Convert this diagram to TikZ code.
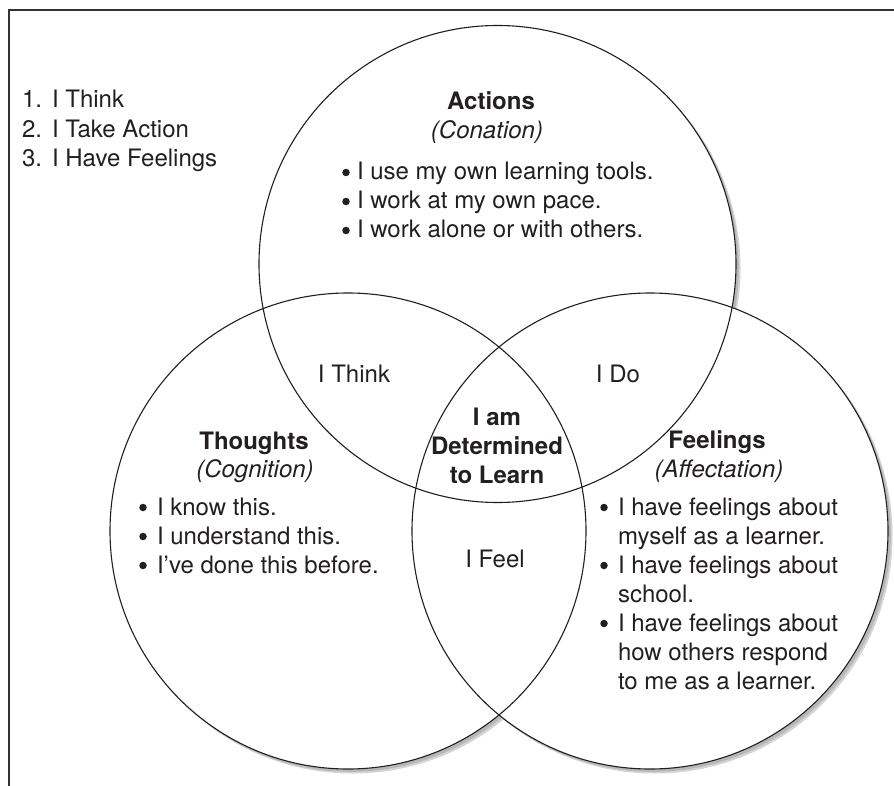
\documentclass[tikz,border=0pt]{standalone}
\usepackage{fontspec}
\setmainfont{TeX Gyre Heros}
\definecolor{ink}{HTML}{231F20}
\definecolor{shadeA}{HTML}{D4D4D4}
\definecolor{shadeB}{HTML}{B8B8B8}
\begin{document}
\begin{tikzpicture}[x=1pt,y=-1pt,
  body/.style={font=\fontsize{24}{29}\selectfont, text=ink, inner sep=0pt, outer sep=0pt},
  lft/.style={body, anchor=base west},
  ctr/.style={body, anchor=base},
  head/.style={ctr, font=\fontsize{24}{29}\selectfont\bfseries},
  sub/.style={ctr, font=\fontsize{24}{29}\selectfont\itshape},
  dot/.style={circle, fill=ink, inner sep=0pt, minimum size=7.5pt},
  ring/.style={draw=ink, line width=1.1pt},
  frameline/.style={draw=black!80, line width=1.6pt}
]
\useasboundingbox (0,0) rectangle (894,786);
\fill[white] (0,0) rectangle (894,786);

% frame (top and left edges)
\coordinate (fbl) at (9,786);
\coordinate (ftl) at (9,10);
\coordinate (ftr) at (894,10);
\draw[frameline] (fbl) -- (ftl) -- (ftr);

% circle centres
\coordinate (cA) at (497.5,264);
\coordinate (cT) at (348,531);
\coordinate (cF) at (650,531);

% shadows
\foreach \c/\r in {cA/238.5, cT/238, cF/238}{
  \fill[shadeA] ([shift={(4.5,4.5)}]\c) circle[radius=\r pt];
  \fill[shadeB] ([shift={(2.8,2.8)}]\c) circle[radius=\r pt];
}
% white discs
\foreach \c/\r in {cA/238.5, cT/238, cF/238}{
  \fill[white] (\c) circle[radius=\r pt];
}
% outlines
\draw[ring] (cA) circle[radius=238.5pt];
\draw[ring] (cT) circle[radius=238pt];
\draw[ring] (cF) circle[radius=238pt];

% top-left list
\node[lft] (n1) at (22,108) {1.};
\node[lft] (l1) at (52,108) {I Think};
\node[lft] (n2) at (22,138) {2.};
\node[lft] (l2) at (52,138) {I Take Action};
\node[lft] (n3) at (22,167) {3.};
\node[lft] (l3) at (52,167) {I Have Feelings};

% Actions
\node[head] (acth) at (491,110) {Actions};
\node[sub]  (acts) at (487,139) {(Conation)};
\node[dot] (ab1) at (346,172.5) {};
\node[lft] (a1) at (357,180) {I use my own learning tools.};
\node[dot] (ab2) at (346,201.5) {};
\node[lft] (a2) at (357,209) {I work at my own pace.};
\node[dot] (ab3) at (346,230.5) {};
\node[lft] (a3) at (357,238) {I work alone or with others.};

% Thoughts
\node[head] (thh) at (254,449) {Thoughts};
\node[sub]  (ths) at (255,477) {(Cognition)};
\node[dot] (tb1) at (143,507.5) {};
\node[lft] (t1) at (157,515) {I know this.};
\node[dot] (tb2) at (143,536.5) {};
\node[lft] (t2) at (157,544) {I understand this.};
\node[dot] (tb3) at (143,565.5) {};
\node[lft] (t3) at (157,573) {I’ve done this before.};

% Feelings
\node[head] (feh) at (717,448) {Feelings};
\node[sub]  (fes) at (719,477) {(Affectation)};
\node[dot] (fb1) at (604,507.5) {};
\node[lft] (f1) at (618,515) {I have feelings about};
\node[lft] (f1b) at (618,544) {myself as a learner.};
\node[dot] (fb2) at (604,565.5) {};
\node[lft] (f2) at (618,573) {I have feelings about};
\node[lft] (f2b) at (618,602) {school.};
\node[dot] (fb3) at (604,623.5) {};
\node[lft] (f3) at (618,631) {I have feelings about};
\node[lft] (f3b) at (618,660) {how others respond};
\node[lft] (f3c) at (618,689) {to me as a learner.};

% overlaps
\node[ctr] (think) at (354,382) {I Think};
\node[ctr] (ido) at (618,382) {I Do};
\node[ctr] (ifeel) at (495,567) {I Feel};
\node[head] (mid1) at (497,425) {I am};
\node[head] (mid2) at (497,454) {Determined};
\node[head] (mid3) at (497,483) {to Learn};
\end{tikzpicture}
\end{document}
